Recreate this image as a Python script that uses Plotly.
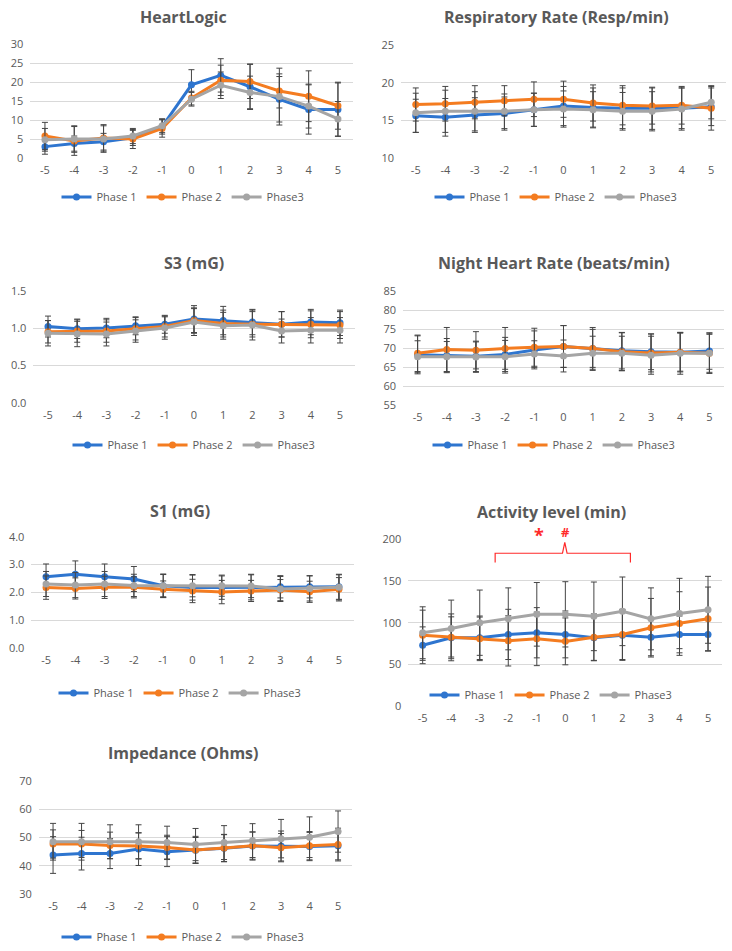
import plotly.graph_objects as go

x_days = [-5, -4, -3, -2, -1, 0, 1, 2, 3, 4, 5]
x_labels = [str(v) for v in x_days]
series_names = ["Phase 1", "Phase 2", "Phase3"]

# HeartLogic
hl_p1 = [3.0, 3.8, 4.3, 5.3, 8.3, 19.3, 21.8, 18.8, 15.5, 12.8, 12.8]
hl_p2 = [5.8, 4.5, 5.3, 5.0, 7.8, 15.8, 20.5, 20.2, 17.7, 16.3, 13.8]
hl_p3 = [4.8, 5.0, 5.0, 5.8, 8.5, 15.5, 19.2, 17.3, 16.2, 13.7, 10.3]
hl_e1 = [2.0, 2.0, 2.2, 2.0, 2.0, 4.0, 4.4, 6.0, 6.0, 6.5, 7.0]
hl_e2 = [3.6, 3.8, 3.5, 2.5, 2.3, 1.8, 4.0, 4.5, 4.5, 6.7, 6.2]
hl_e3 = [3.0, 3.5, 3.5, 2.0, 1.8, 1.8, 3.5, 4.3, 7.5, 5.8, 4.6]

# Respiratory rate
rr_p1 = [15.6, 15.4, 15.7, 15.9, 16.4, 16.9, 16.7, 16.6, 16.6, 16.6, 16.8]
rr_p2 = [17.1, 17.2, 17.4, 17.6, 17.8, 17.8, 17.3, 17.0, 16.9, 17.0, 16.6]
rr_p3 = [16.0, 16.2, 16.2, 16.2, 16.4, 16.5, 16.4, 16.2, 16.2, 16.5, 17.4]
rr_e1 = [2.2, 2.5, 2.3, 2.2, 2.2, 2.6, 2.6, 2.7, 2.8, 2.7, 2.5]
rr_e2 = [2.2, 2.3, 2.2, 2.0, 2.3, 2.4, 2.4, 2.6, 2.4, 2.5, 2.9]
rr_e3 = [2.6, 2.8, 2.6, 2.3, 2.2, 2.4, 2.4, 2.5, 2.6, 2.8, 2.2]

# S3
s3_p1 = [1.02, 0.99, 1.00, 1.03, 1.05, 1.12, 1.10, 1.08, 1.05, 1.08, 1.07]
s3_p2 = [0.95, 0.96, 0.96, 0.99, 1.02, 1.10, 1.06, 1.05, 1.05, 1.05, 1.04]
s3_p3 = [0.93, 0.92, 0.92, 0.96, 1.00, 1.08, 1.03, 1.04, 0.96, 0.97, 0.97]
s3_e1 = [0.14, 0.13, 0.13, 0.12, 0.12, 0.18, 0.19, 0.17, 0.17, 0.17, 0.17]
s3_e2 = [0.15, 0.15, 0.15, 0.15, 0.14, 0.17, 0.18, 0.17, 0.17, 0.18, 0.18]
s3_e3 = [0.17, 0.17, 0.16, 0.15, 0.15, 0.18, 0.18, 0.20, 0.16, 0.17, 0.17]

# Night heart rate
nh_p1 = [68.2, 68.0, 67.8, 68.3, 69.5, 70.4, 69.9, 69.3, 69.0, 68.9, 69.2]
nh_p2 = [68.6, 69.6, 69.4, 69.9, 70.2, 70.4, 69.9, 69.0, 68.7, 68.9, 68.6]
nh_p3 = [67.7, 67.7, 67.6, 67.7, 68.4, 67.9, 68.6, 68.6, 68.1, 68.6, 68.6]
nh_e1 = [5.0, 4.5, 4.0, 4.5, 5.0, 5.5, 5.0, 4.8, 4.7, 5.0, 4.8]
nh_e2 = [4.8, 5.8, 4.9, 5.5, 5.0, 5.5, 5.5, 5.0, 5.0, 5.2, 5.3]
nh_e3 = [4.2, 4.0, 4.0, 4.3, 3.5, 4.2, 4.5, 4.5, 5.0, 5.5, 5.0]

# S1
s1_p1 = [2.56, 2.65, 2.56, 2.48, 2.24, 2.17, 2.17, 2.18, 2.20, 2.20, 2.20]
s1_p2 = [2.17, 2.14, 2.18, 2.18, 2.11, 2.05, 2.01, 2.05, 2.08, 2.02, 2.11]
s1_p3 = [2.30, 2.26, 2.30, 2.25, 2.24, 2.24, 2.24, 2.23, 2.12, 2.14, 2.18]
s1_e1 = [0.46, 0.48, 0.46, 0.45, 0.40, 0.45, 0.42, 0.45, 0.40, 0.40, 0.45]
s1_e2 = [0.42, 0.38, 0.40, 0.38, 0.30, 0.42, 0.42, 0.38, 0.38, 0.38, 0.42]
s1_e3 = [0.45, 0.45, 0.45, 0.40, 0.42, 0.40, 0.38, 0.42, 0.45, 0.45, 0.45]

# Activity level
ac_p1 = [73, 82, 82, 86, 88, 86, 82, 85, 82.5, 86, 86]
ac_p2 = [85, 82.5, 80.7, 78.3, 80.7, 77.7, 82.5, 86, 94, 99, 104.6]
ac_p3 = [88, 93, 100, 104.6, 110, 110, 107.6, 113.6, 104.6, 111, 115.4]
ac_e1 = [22, 25, 26, 30, 30, 28, 27, 30, 22, 22, 20]
ac_e2 = [30, 28, 26, 30, 32, 28, 28, 30, 35, 38, 38]
ac_e3 = [31, 34, 39, 37, 38, 39, 41, 41, 37, 42, 40]

# Impedance
im_p1 = [43.8, 44.3, 44.3, 45.9, 45.0, 45.5, 46.2, 47.0, 47.0, 46.8, 47.1]
im_p2 = [47.7, 47.7, 47.2, 47.0, 46.5, 45.6, 46.3, 47.1, 46.4, 47.1, 47.5]
im_p3 = [48.5, 48.5, 48.5, 48.5, 48.2, 47.5, 48.2, 48.9, 49.6, 50.1, 52.1]
im_e1 = [6.5, 5.8, 5.3, 5.8, 5.3, 4.5, 4.8, 5.0, 5.3, 5.0, 5.0]
im_e2 = [5.0, 4.8, 4.7, 4.6, 4.3, 4.8, 4.8, 4.8, 5.0, 5.0, 5.8]
im_e3 = [6.5, 6.5, 6.0, 6.0, 5.8, 5.7, 6.0, 6.0, 6.8, 7.2, 7.3]

colors = ["#2E75CF", "#F47C20", "#A5A5A5"]
TXT = "#595959"
GRID = "#D9D9D9"
W, H = 732, 951

def px(x):
    return x / W

def py(y):
    return 1 - y / H

panels = [
    dict(title="HeartLogic", vals=[hl_p1, hl_p2, hl_p3], errs=[hl_e1, hl_e2, hl_e3],
         yr=[0, 30], dt=5, fmt="", xp=(30.3, 352.6), yp=(158, 44.3), tx=183, ty=17, ly=197),
    dict(title="Respiratory Rate (Resp/min)", vals=[rr_p1, rr_p2, rr_p3], errs=[rr_e1, rr_e2, rr_e3],
         yr=[10, 25], dt=5, fmt="", xp=(401, 726), yp=(158, 45), tx=556, ty=17, ly=197),
    dict(title="S3 (mG)", vals=[s3_p1, s3_p2, s3_p3], errs=[s3_e1, s3_e2, s3_e3],
         yr=[0, 1.5], dt=0.5, fmt=".1f", xp=(33.4, 354.6), yp=(402.7, 290.7), tx=194, ty=263, ly=445),
    dict(title="Night Heart Rate (beats/min)", vals=[nh_p1, nh_p2, nh_p3], errs=[nh_e1, nh_e2, nh_e3],
         yr=[55, 85], dt=5, fmt="", xp=(403, 724), yp=(405, 291), tx=554, ty=263, ly=445),
    dict(title="S1 (mG)", vals=[s1_p1, s1_p2, s1_p3], errs=[s1_e1, s1_e2, s1_e3],
         yr=[0, 4], dt=1, fmt=".1f", xp=(31.4, 353.6), yp=(648, 536.7), tx=180, ty=511, ly=693),
    dict(title="Activity level (min)", vals=[ac_p1, ac_p2, ac_p3], errs=[ac_e1, ac_e2, ac_e3],
         yr=[0, 200], dt=50, fmt="", xp=(408.4, 722.3), yp=(706.4, 539), tx=551, ty=512, ly=695),
    dict(title="Impedance (Ohms)", vals=[im_p1, im_p2, im_p3], errs=[im_e1, im_e2, im_e3],
         yr=[30, 70], dt=10, fmt="", xp=(38.8, 352.3), yp=(894, 781), tx=183, ty=753, ly=937),
]

fig = go.Figure()
layout = dict(width=W, height=H, margin=dict(l=0, r=0, t=0, b=0, autoexpand=False),
              paper_bgcolor="white", plot_bgcolor="white", showlegend=True,
              font=dict(family="Open Sans, Liberation Sans, sans-serif", color=TXT, size=11))
annotations = []

for i, p in enumerate(panels, start=1):
    sfx = "" if i == 1 else str(i)
    lg = "legend" if i == 1 else f"legend{i}"
    for k in range(3):
        fig.add_trace(go.Scatter(
            x=x_days, y=p["vals"][k], name=series_names[k], mode="lines+markers",
            line=dict(color=colors[k], width=3), marker=dict(color=colors[k], size=7),
            error_y=dict(type="data", array=p["errs"][k], color="#454545", thickness=1, width=3),
            xaxis="x" + sfx, yaxis="y" + sfx, legend=lg, cliponaxis=False))
    layout["xaxis" + sfx] = dict(domain=[px(p["xp"][0]), px(p["xp"][1])], range=[-5.5, 5.5],
                                  anchor="y" + sfx, tickmode="array", tickvals=x_days, ticktext=x_labels,
                                  showgrid=False, zeroline=False, showline=False, ticks="",
                                  tickfont=dict(size=11, color=TXT), ticklabelstandoff=4,
                                  fixedrange=True, automargin=False)
    layout["yaxis" + sfx] = dict(domain=[py(p["yp"][0]), py(p["yp"][1])], range=p["yr"],
                                  anchor="x" + sfx, dtick=p["dt"], tick0=p["yr"][0], tickformat=p["fmt"],
                                  showgrid=True, gridcolor=GRID, gridwidth=1, zeroline=False,
                                  showline=False, ticks="", tickfont=dict(size=11, color=TXT),
                                  ticklabelstandoff=6, fixedrange=True, automargin=False)
    layout[lg] = dict(orientation="h", x=px(p["tx"]), y=py(p["ly"]), xanchor="center", yanchor="middle",
                      font=dict(size=11, color=TXT), bgcolor="rgba(0,0,0,0)",
                      itemwidth=30, tracegroupgap=0, entrywidthmode="pixels")
    annotations.append(dict(text=f"<b>{p['title']}</b>", x=px(p["tx"]), y=py(p["ty"]),
                            xref="paper", yref="paper", showarrow=False, xanchor="center",
                            yanchor="middle", font=dict(size=16, color=TXT)))

# significance bracket on Activity panel
red = "#FF2A2A"
fig.add_shape(type="path", xref="x6", yref="y6",
              path="M -2.46,172 L -2.46,183 L -0.1,183 L -0.02,196 L 0.06,183 L 2.28,183 L 2.28,172",
              line=dict(color=red, width=1.2))
annotations.append(dict(text="<b>*</b>", x=px(546), y=py(535), xref="paper", yref="paper",
                        showarrow=False, font=dict(size=18, color=red)))
annotations.append(dict(text="<b>#</b>", x=px(572), y=py(532), xref="paper", yref="paper",
                        showarrow=False, font=dict(size=13, color=red)))

layout["annotations"] = annotations
fig.update_layout(**layout)
fig.write_html("out.html", config={"displayModeBar": False},
               post_script="document.body.style.margin='0';document.body.style.overflow='hidden';")
